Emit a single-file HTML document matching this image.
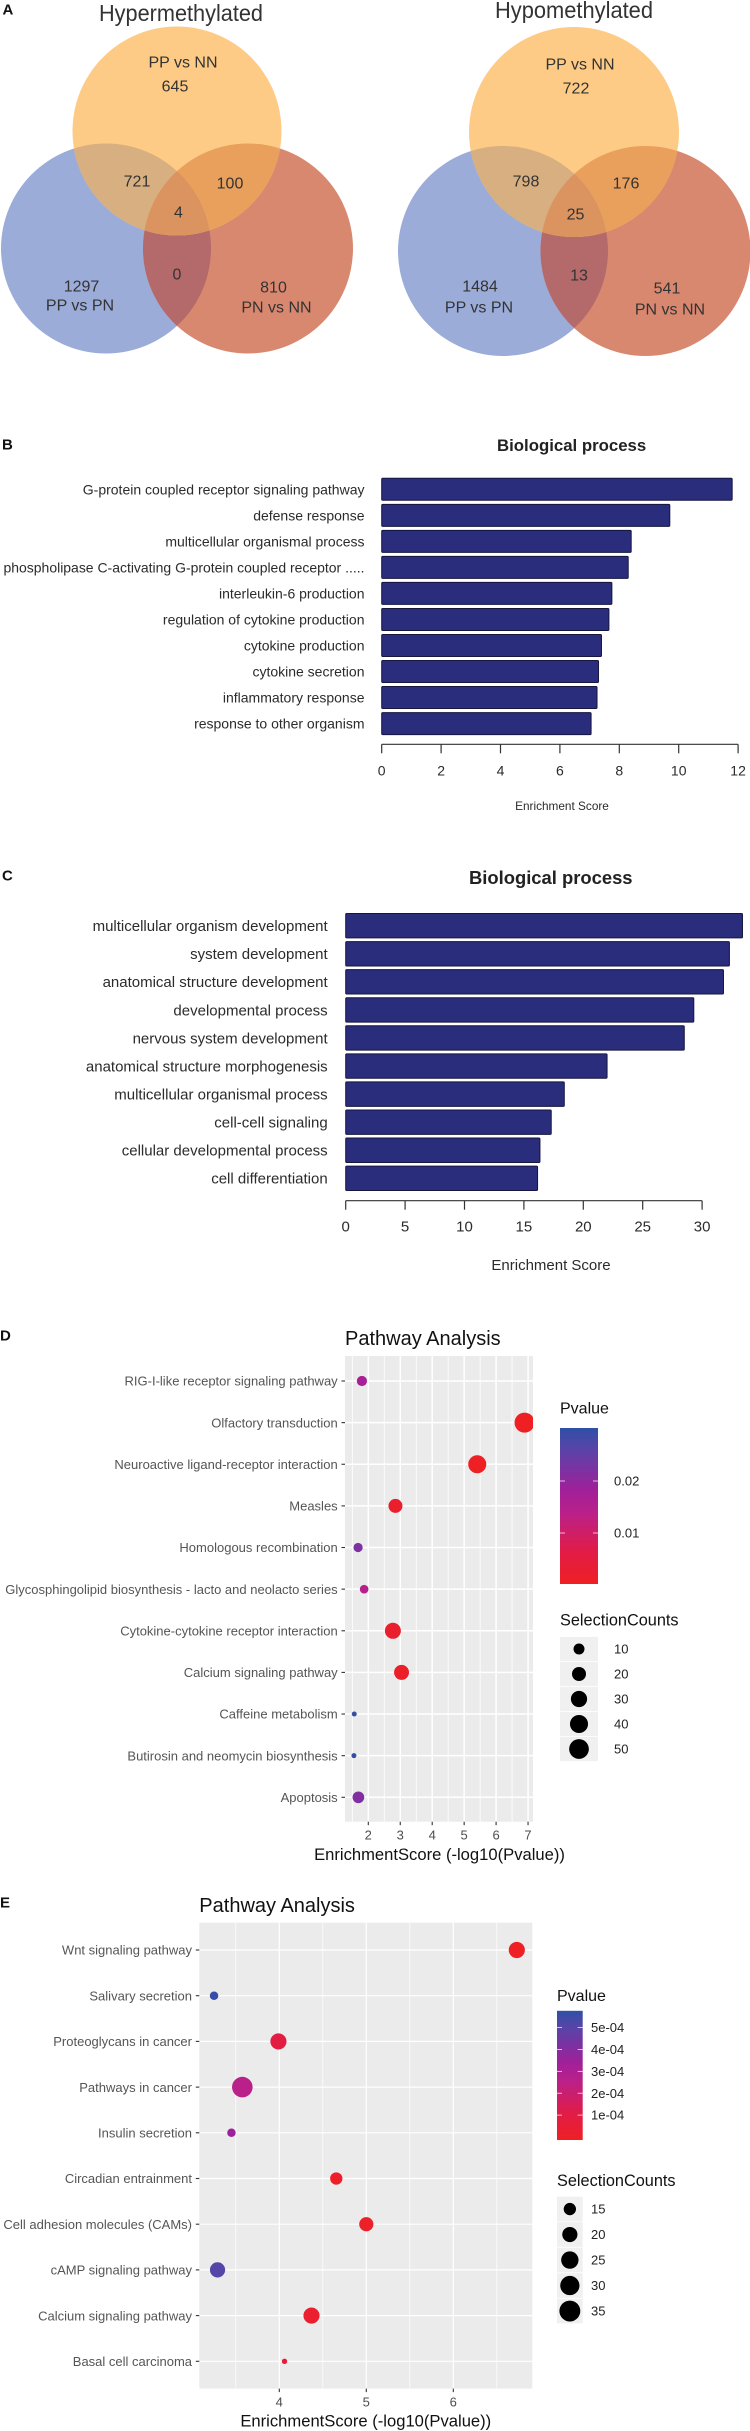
<!DOCTYPE html>
<html lang="en">
<head>
<meta charset="utf-8">
<title>Methylation Venn diagrams, GO and pathway analysis</title>
<style>
html,body{margin:0;padding:0;background:#fff;}
svg{display:block;font-family:"Liberation Sans",sans-serif;}
.venn-text{fill:#333;dominant-baseline:central;text-anchor:middle;font-size:16px;}
.panel-label{font-weight:bold;fill:#111;dominant-baseline:central;font-size:15px;}
</style>
</head>
<body>
<svg id="figure" xmlns="http://www.w3.org/2000/svg" width="750" height="2431" viewBox="0 0 750 2431">
<defs>
<clipPath id="l-o"><circle cx="177" cy="131" r="104.5"/></clipPath>
<clipPath id="l-b"><circle cx="106" cy="248.5" r="105"/></clipPath>
<clipPath id="l-r"><circle cx="248" cy="248.5" r="105"/></clipPath>
<clipPath id="r-o"><circle cx="574" cy="132" r="105"/></clipPath>
<clipPath id="r-b"><circle cx="503" cy="251" r="105"/></clipPath>
<clipPath id="r-r"><circle cx="645.5" cy="251" r="105"/></clipPath>
<linearGradient id="p-gradient" x1="0" y1="1" x2="0" y2="0">
<stop offset="0" stop-color="#EE2024"/>
<stop offset="0.2" stop-color="#E21C45"/>
<stop offset="0.45" stop-color="#BB2088"/>
<stop offset="0.6" stop-color="#A0209A"/>
<stop offset="0.88" stop-color="#5545A8"/>
<stop offset="1" stop-color="#2E50A6"/>
</linearGradient>
<clipPath id="clip-d"><rect x="345" y="1356" width="188" height="465.7"/></clipPath>
<clipPath id="clip-e"><rect x="199.3" y="1922.7" width="333" height="465.9"/></clipPath>
</defs>
<rect width="750" height="2431" fill="#fff"/>

<g>
<circle cx="106" cy="248.5" r="105" fill="#9CACD9"/>
<circle cx="248" cy="248.5" r="105" fill="#D98870"/>
<g clip-path="url(#l-b)"><circle cx="248" cy="248.5" r="105" fill="#B46A6B"/></g>
<circle cx="177" cy="131" r="104.5" fill="#FDCB85"/>
<g clip-path="url(#l-o)"><circle cx="106" cy="248.5" r="105" fill="#D7AF80"/></g>
<g clip-path="url(#l-o)"><circle cx="248" cy="248.5" r="105" fill="#E9A05C"/></g>
<g clip-path="url(#l-o)"><g clip-path="url(#l-b)"><circle cx="248" cy="248.5" r="105" fill="#DB935F"/></g></g>
<text x="181" y="13" class="venn-text" style="font-size:23px" textLength="164" lengthAdjust="spacingAndGlyphs">Hypermethylated</text>
<text x="183" y="63" class="venn-text">PP vs NN</text>
<text x="175" y="87" class="venn-text">645</text>
<text x="137" y="182" class="venn-text">721</text>
<text x="230" y="184" class="venn-text">100</text>
<text x="178.5" y="213" class="venn-text">4</text>
<text x="177" y="275" class="venn-text">0</text>
<text x="81.5" y="287" class="venn-text">1297</text>
<text x="80" y="306" class="venn-text">PP vs PN</text>
<text x="273.5" y="288" class="venn-text">810</text>
<text x="276.5" y="308" class="venn-text">PN vs NN</text>
</g>

<g>
<circle cx="503" cy="251" r="105" fill="#9CACD9"/>
<circle cx="645.5" cy="251" r="105" fill="#D98870"/>
<g clip-path="url(#r-b)"><circle cx="645.5" cy="251" r="105" fill="#B46A6B"/></g>
<circle cx="574" cy="132" r="105" fill="#FDCB85"/>
<g clip-path="url(#r-o)"><circle cx="503" cy="251" r="105" fill="#D7AF80"/></g>
<g clip-path="url(#r-o)"><circle cx="645.5" cy="251" r="105" fill="#E9A05C"/></g>
<g clip-path="url(#r-o)"><g clip-path="url(#r-b)"><circle cx="645.5" cy="251" r="105" fill="#DB935F"/></g></g>
<text x="574" y="10" class="venn-text" style="font-size:23px" textLength="158" lengthAdjust="spacingAndGlyphs">Hypomethylated</text>
<text x="580" y="65" class="venn-text">PP vs NN</text>
<text x="576" y="89" class="venn-text">722</text>
<text x="526" y="182" class="venn-text">798</text>
<text x="626" y="184" class="venn-text">176</text>
<text x="575.5" y="215" class="venn-text">25</text>
<text x="579" y="276" class="venn-text">13</text>
<text x="480" y="287" class="venn-text">1484</text>
<text x="479" y="308" class="venn-text">PP vs PN</text>
<text x="667" y="289" class="venn-text">541</text>
<text x="670" y="310" class="venn-text">PN vs NN</text>
</g>

<text x="2.5" y="10" class="panel-label">A</text>
<text x="2" y="445" class="panel-label">B</text>
<text x="2" y="876" class="panel-label">C</text>
<text x="0" y="1336" class="panel-label">D</text>
<text x="0" y="1903" class="panel-label">E</text>

<g id="chart-b"></g>
<g id="chart-c"></g>
<g id="chart-d"></g>
<g id="chart-e"></g>
</svg>

<script>
const bCategories = ["G-protein coupled receptor signaling pathway","defense response","multicellular organismal process","phospholipase C-activating G-protein coupled receptor .....","interleukin-6 production","regulation of cytokine production","cytokine production","cytokine secretion","inflammatory response","response to other organism"];
const bScores = [11.8,9.7,8.4,8.3,7.75,7.65,7.4,7.3,7.25,7.05];
const bTicks = [0,2,4,6,8,10,12];

const cCategories = ["multicellular organism development","system development","anatomical structure development","developmental process","nervous system development","anatomical structure morphogenesis","multicellular organismal process","cell-cell signaling","cellular developmental process","cell differentiation"];
const cScores = [33.4,32.3,31.8,29.3,28.5,22,18.4,17.3,16.35,16.15];
const cTicks = [0,5,10,15,20,25,30];

const dPathways = ["RIG-I-like receptor signaling pathway","Olfactory transduction","Neuroactive ligand-receptor interaction","Measles","Homologous recombination","Glycosphingolipid biosynthesis - lacto and neolacto series","Cytokine-cytokine receptor interaction","Calcium signaling pathway","Caffeine metabolism","Butirosin and neomycin biosynthesis","Apoptosis"];
const dEnrichment = [1.8,6.89,5.41,2.85,1.68,1.87,2.77,3.04,1.56,1.55,1.69];
const dCounts = [8,52,40,20,6,5,29,24,2,2,12];
const dTicks = [2,3,4,5,6,7];
const dLegendP = [0.02,0.01];
const dLegendCounts = [10,20,30,40,50];

const ePathways = ["Wnt signaling pathway","Salivary secretion","Proteoglycans in cancer","Pathways in cancer","Insulin secretion","Circadian entrainment","Cell adhesion molecules (CAMs)","cAMP signaling pathway","Calcium signaling pathway","Basal cell carcinoma"];
const eEnrichment = [6.73,3.25,3.99,3.575,3.45,4.655,5.0,3.29,4.37,4.06];
const eCounts = [22,11,22,34,11,15,18,20,22,10];
const eTicks = [4,5,6];
const eLegendP = [5e-4,4e-4,3e-4,2e-4,1e-4];
const eLegendPLabels = ["5e-04","4e-04","3e-04","2e-04","1e-04"];
const eLegendCounts = [15,20,25,30,35];

const NS = "http://www.w3.org/2000/svg";
function mk(parent, tag, attrs, text) {
  const el = document.createElementNS(NS, tag);
  for (const k in attrs) el.setAttribute(k, attrs[k]);
  if (text !== undefined) el.textContent = text;
  parent.appendChild(el);
  return el;
}

const gradStops = [[0,[238,32,36]],[0.2,[226,28,69]],[0.45,[187,32,136]],[0.6,[160,32,154]],[0.88,[85,69,168]],[1,[46,80,166]]];
function pColor(frac) {
  const f = Math.max(0, Math.min(1, frac));
  for (let i = 1; i < gradStops.length; i++) {
    if (f <= gradStops[i][0]) {
      const a = gradStops[i-1], b = gradStops[i];
      const t = (f - a[0]) / (b[0] - a[0]);
      const c = a[1].map((v, j) => Math.round(v + (b[1][j] - v) * t));
      return "rgb(" + c.join(",") + ")";
    }
  }
  return "rgb(46,80,166)";
}

function barChart(g, cfg) {
  const x = v => cfg.x0 + v * cfg.unit;
  const y = i => cfg.top + i * cfg.pitch;
  cfg.categories.forEach((name, i) => {
    const label = mk(g, "text", {x: cfg.labelRight, y: y(i) + cfg.height / 2 + cfg.labelSize * 0.36, "text-anchor": "end", "font-size": cfg.labelSize, fill: "#2b2b2b"}, name);
    
    
    if (label.getComputedTextLength() > cfg.labelMax) {
      label.setAttribute("textLength", cfg.labelMax);
      label.setAttribute("lengthAdjust", "spacingAndGlyphs");
    }
    const bar = mk(g, "rect", {x: x(0), y: y(i), width: x(cfg.values[i]) - x(0), height: cfg.height, rx: 1, fill: "#2A2C7C", stroke: "#16163F", "stroke-width": 1});
    
    
  });
  const ticks = cfg.ticks;
  const axis = mk(g, "line", {x1: x(ticks[0]), x2: x(ticks[ticks.length - 1]), y1: cfg.axisY, y2: cfg.axisY, stroke: "#333", "stroke-width": 1.2});
  
  
  ticks.forEach(t => {
    const tick = mk(g, "line", {x1: x(t), x2: x(t), y1: cfg.axisY, y2: cfg.axisY + 9, stroke: "#333", "stroke-width": 1.2});
    
    
    const tl = mk(g, "text", {x: x(t), y: cfg.axisY + 31, "text-anchor": "middle", "font-size": cfg.tickSize, fill: "#2b2b2b"}, t);
    
    
  });
  const at = mk(g, "text", {x: cfg.axisTitleX, y: cfg.axisTitleY, "text-anchor": "middle", "font-size": cfg.axisTitleSize, fill: "#2b2b2b"}, "Enrichment Score");
  
  
  const title = mk(g, "text", {x: cfg.titleX, y: cfg.titleY, "text-anchor": "start", "font-size": cfg.titleSize, "font-weight": "bold", fill: "#222"}, "Biological process");
  
  
}

barChart(document.getElementById("chart-b"), {
  categories: bCategories, values: bScores, ticks: bTicks,
  x0: 381.7, unit: 29.7, top: 478.3, pitch: 26.03, height: 22,
  labelRight: 364.5, labelSize: 14, labelMax: 361, axisY: 744.3, tickSize: 14,
  axisTitleX: 562, axisTitleY: 810, axisTitleSize: 11.8,
  titleX: 497, titleY: 451, titleSize: 16.8
});
barChart(document.getElementById("chart-c"), {
  categories: cCategories, values: cScores, ticks: cTicks,
  x0: 345.7, unit: 11.88, top: 913.5, pitch: 28.07, height: 24.4,
  labelRight: 327.7, labelSize: 15, labelMax: 326, axisY: 1200.7, tickSize: 15,
  axisTitleX: 551, axisTitleY: 1270, axisTitleSize: 15,
  titleX: 469, titleY: 884, titleSize: 18.4
});

function dotChart(g, cfg) {
  const x = v => cfg.x0 + (v - cfg.v0) * cfg.unit;
  const y = i => cfg.rowTop + i * cfg.rowPitch;
  const size = c => cfg.rMin + (cfg.rMax - cfg.rMin) * Math.sqrt(Math.max(0, (c - cfg.cMin) / (cfg.cMax - cfg.cMin)));
  const p = cfg.panel;
  const panel = mk(g, "rect", {x: p.x, y: p.y, width: p.w, height: p.h, fill: "#EBEBEB"});
  
  
  cfg.minors.forEach(v => {
    const l = mk(g, "line", {x1: x(v), x2: x(v), y1: p.y, y2: p.y + p.h, stroke: "#fff", "stroke-width": cfg.gridW * 0.55});
    
    
  });
  cfg.ticks.forEach(t => {
    const l = mk(g, "line", {x1: x(t), x2: x(t), y1: p.y, y2: p.y + p.h, stroke: "#fff", "stroke-width": cfg.gridW});
    
    
    const tk = mk(g, "line", {x1: x(t), x2: x(t), y1: p.y + p.h, y2: p.y + p.h + 3.5, stroke: "#333", "stroke-width": 1.1});
    
    
    const tl = mk(g, "text", {x: x(t), y: p.y + p.h + 18, "text-anchor": "middle", "font-size": 13, fill: "#4D4D4D"}, t);
    
    
  });
  cfg.names.forEach((name, i) => {
    const l = mk(g, "line", {x1: p.x, x2: p.x + p.w, y1: y(i), y2: y(i), stroke: "#fff", "stroke-width": cfg.gridW});
    
    
    const tk = mk(g, "line", {x1: p.x - 3.5, x2: p.x, y1: y(i), y2: y(i), stroke: "#333", "stroke-width": 1.1});
    
    
    const tl = mk(g, "text", {x: p.x - 7.3, y: y(i) + 4.7, "text-anchor": "end", "font-size": 13, fill: "#555"}, name);
    
    
  });
  const dots = mk(g, "g", {"clip-path": "url(#" + cfg.clip + ")"});
  
  
  cfg.names.forEach((name, i) => {
    const pv = Math.pow(10, -cfg.scores[i]);
    const c = mk(dots, "circle", {cx: x(cfg.scores[i]), cy: y(i), r: size(cfg.counts[i]), fill: pColor(pv / cfg.pMax)});
    
    
  });
  const title = mk(g, "text", {x: p.x, y: cfg.titleY, "font-size": 20, fill: "#111"}, "Pathway Analysis");
  
  
  const xt = mk(g, "text", {x: cfg.xTitleX, y: cfg.xTitleY, "text-anchor": "middle", "font-size": 16.6, fill: "#111"}, "EnrichmentScore (-log10(Pvalue))");
  
  

  const L = cfg.legend;
  const pt = mk(g, "text", {x: L.x, y: L.pTitleY + 5.7, "font-size": 16, fill: "#111"}, "Pvalue");
  
  
  const bar = mk(g, "rect", {x: L.x, y: L.barTop, width: L.w, height: L.barBottom - L.barTop, fill: "url(#p-gradient)"});
  
  
  const py = v => L.zeroY - v * L.pUnit;
  L.pValues.forEach((v, i) => {
    const t1 = mk(g, "line", {x1: L.x, x2: L.x + 5, y1: py(v), y2: py(v), stroke: "#fff", "stroke-width": 0.7});
    
    
    const t2 = mk(g, "line", {x1: L.x + L.w - 5, x2: L.x + L.w, y1: py(v), y2: py(v), stroke: "#fff", "stroke-width": 0.7});
    
    
    const tl = mk(g, "text", {x: L.labelX, y: py(v) + 4.6, "font-size": 13, fill: "#222"}, L.pLabels[i]);
    
    
  });
  const st = mk(g, "text", {x: L.x, y: L.sTitleY + 5.7, "font-size": 16.3, fill: "#111"}, "SelectionCounts");
  
  
  L.counts.forEach((c, i) => {
    const cy = L.keyTop + L.keyH * (i + 0.5);
    const k = mk(g, "rect", {x: L.x, y: L.keyTop + L.keyH * i + 0.4, width: L.w, height: L.keyH - 0.8, fill: "#F0F0F0"});
    
    
    const d = mk(g, "circle", {cx: L.x + L.w / 2, cy: cy, r: size(c), fill: "#000"});
    
    
    const tl = mk(g, "text", {x: L.labelX, y: cy + 4.6, "font-size": 13, fill: "#222"}, c);
    
    
  });
}

dotChart(document.getElementById("chart-d"), {
  names: dPathways, scores: dEnrichment, counts: dCounts, ticks: dTicks,
  minors: [1.5,2.5,3.5,4.5,5.5,6.5], gridW: 1.5,
  x0: 368.3, v0: 2, unit: 31.95, rowTop: 1381, rowPitch: 41.63,
  panel: {x: 345, y: 1356, w: 188, h: 465.7}, clip: "clip-d",
  rMin: 2.5, rMax: 10, cMin: 2, cMax: 52, pMax: 0.0285,
  titleY: 1345, xTitleX: 439.5, xTitleY: 1860,
  legend: {x: 560, w: 38, labelX: 614, pTitleY: 1408, barTop: 1428, barBottom: 1584,
    zeroY: 1585, pUnit: 5200, pValues: dLegendP, pLabels: dLegendP.map(String),
    sTitleY: 1620, keyTop: 1636.5, keyH: 25, counts: dLegendCounts}
});
dotChart(document.getElementById("chart-e"), {
  names: ePathways, scores: eEnrichment, counts: eCounts, ticks: eTicks,
  minors: [3.5,4.5,5.5,6.5], gridW: 1.2,
  x0: 279.3, v0: 4, unit: 87, rowTop: 1950, rowPitch: 45.7,
  panel: {x: 199.3, y: 1922.7, w: 333, h: 465.9}, clip: "clip-e",
  rMin: 2.7, rMax: 10.6, cMin: 10, cMax: 36, pMax: 5.76e-4,
  titleY: 1912, xTitleX: 365.8, xTitleY: 2426.5,
  legend: {x: 557, w: 25.7, labelX: 591, pTitleY: 1995.4, barTop: 2010.8, barBottom: 2140,
    zeroY: 2137, pUnit: 219000, pValues: eLegendP, pLabels: eLegendPLabels,
    sTitleY: 2180.5, keyTop: 2196.3, keyH: 25.5, counts: eLegendCounts}
});
</script>
</body>
</html>
